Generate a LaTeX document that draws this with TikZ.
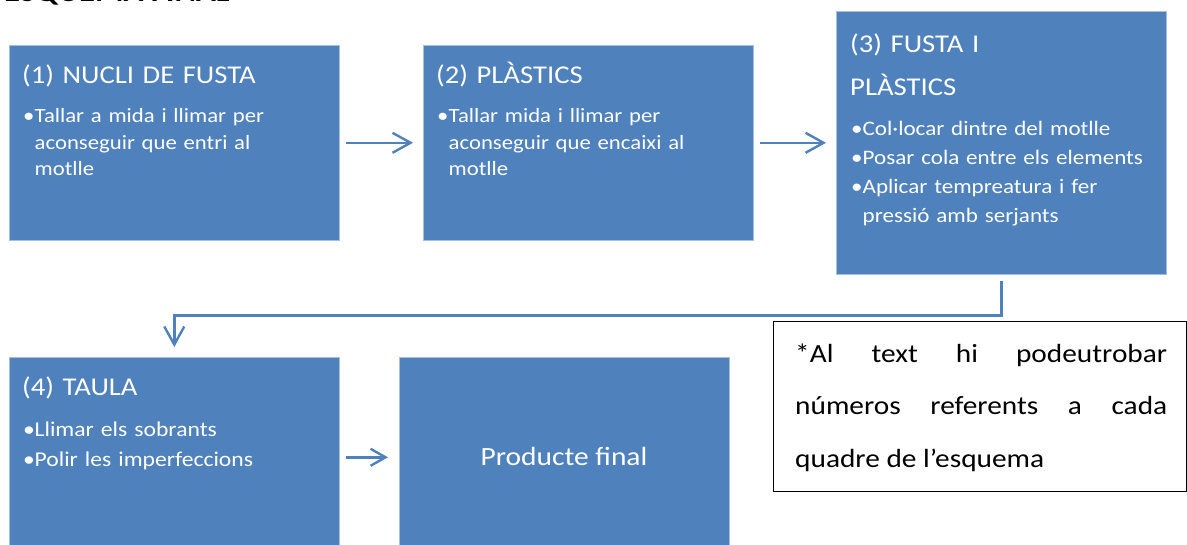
\documentclass[tikz,border=0pt]{standalone}
\usepackage{fontspec}
\setmainfont{Carlito}[FakeStretch=1.12]
\usetikzlibrary{arrows.meta}
\definecolor{boxblue}{HTML}{4F81BD}
\definecolor{edgeblue}{HTML}{A7BFDE}
\newcommand{\bul}{\makebox[12.5pt][l]{\hspace*{1pt}•}}
\newcommand{\ind}{\hspace*{12.5pt}}
\begin{document}
\begin{tikzpicture}[x=1pt,y=-1pt,
  stepbox/.style={fill=boxblue, draw=edgeblue, line width=0.6pt, anchor=north west, inner sep=0pt, minimum width=330pt},
  titletxt/.style={text=white, anchor=base west, inner sep=0pt, text width=318pt, align=left, font=\fontsize{25.6}{43}\selectfont},
  listtxt/.style={text=white, anchor=base west, inner sep=0pt, text width=318pt, align=left},
  conn/.style={draw=boxblue, line width=2.4pt, -{Straight Barb[length=18pt,width=20pt]}},
  shortconn/.style={draw=boxblue, line width=2.4pt, -{Straight Barb[length=15pt,width=17pt]}}]
\useasboundingbox (0,0) rectangle (1187,544);

% heading (cut off at the top)
\node[anchor=base west, inner sep=0pt, font=\bfseries\fontsize{29.2}{30}\selectfont] (head) at (4,1.5) {ESQUEMA FINAL};

% boxes
\node[stepbox, minimum height=195pt] (b1) at (9,45) {};
\node[stepbox, minimum height=195pt] (b2) at (423,45) {};
\node[stepbox, minimum height=263pt] (b3) at (836,11) {};
\node[stepbox, minimum height=200pt] (b4) at (9,357) {};
\node[stepbox, minimum height=200pt] (b5) at (399,357) {};

% box 1
\node[titletxt] (t1) at (22,83) {(1) NUCLI DE FUSTA};
\node[listtxt, font=\fontsize{20.3}{26.7}\selectfont] (l1) at (22,122.5)
  {\bul Tallar a mida i llimar per\\\ind aconseguir que entri al\\\ind motlle};

% box 2
\node[titletxt] (t2) at (436,83) {(2) PLÀSTICS};
\node[listtxt, font=\fontsize{20.3}{26.7}\selectfont] (l2) at (436,122.5)
  {\bul Tallar mida i llimar per\\\ind aconseguir que encaixi al\\\ind motlle};

% box 3
\node[titletxt] (t3) at (850,52) {(3) FUSTA I\\PLÀSTICS};
\node[listtxt, font=\fontsize{20.6}{29.3}\selectfont] (l3) at (850,135)
  {\bul Col·locar dintre del motlle\\\bul Posar cola entre els elements\\\bul Aplicar tempreatura i fer\\\ind pressió amb serjants};

% box 4
\node[titletxt] (t4) at (22,395) {(4) TAULA};
\node[listtxt, font=\fontsize{21.1}{30}\selectfont] (l4) at (22,436.5)
  {\bul Llimar els sobrants\\\bul Polir les imperfeccions};

% box 5
\node[text=white, anchor=base, inner sep=0pt, font=\fontsize{26.3}{30}\selectfont] (t5) at (564,465) {Producte final};

% note
\node[draw=black, line width=1.4pt, anchor=north west, minimum width=413pt, minimum height=170pt, inner sep=0pt] (note) at (773,321) {};
\node[anchor=base west, inner sep=0pt, text width=372pt, align=justify, font=\fontsize{26.2}{52.5}\selectfont] (notetxt) at (795,362)
  {*Al text hi podeutrobar\linebreak números referents a cada\linebreak quadre de l’esquema};

% connectors
\draw[conn] ([xshift=6pt]b1.east) -- ([xshift=-10pt]b2.west);
\draw[conn] ([xshift=6pt]b2.east) -- ([xshift=-10pt]b3.west);
\coordinate (turn) at ([yshift=-41pt]b3.south);
\draw[conn] ([yshift=-6pt]b3.south) -- (turn) -| ([yshift=10pt]b4.north);
\draw[shortconn] ([xshift=6pt]b4.east) -- ([xshift=-11pt]b5.west);
\end{tikzpicture}
\end{document}
